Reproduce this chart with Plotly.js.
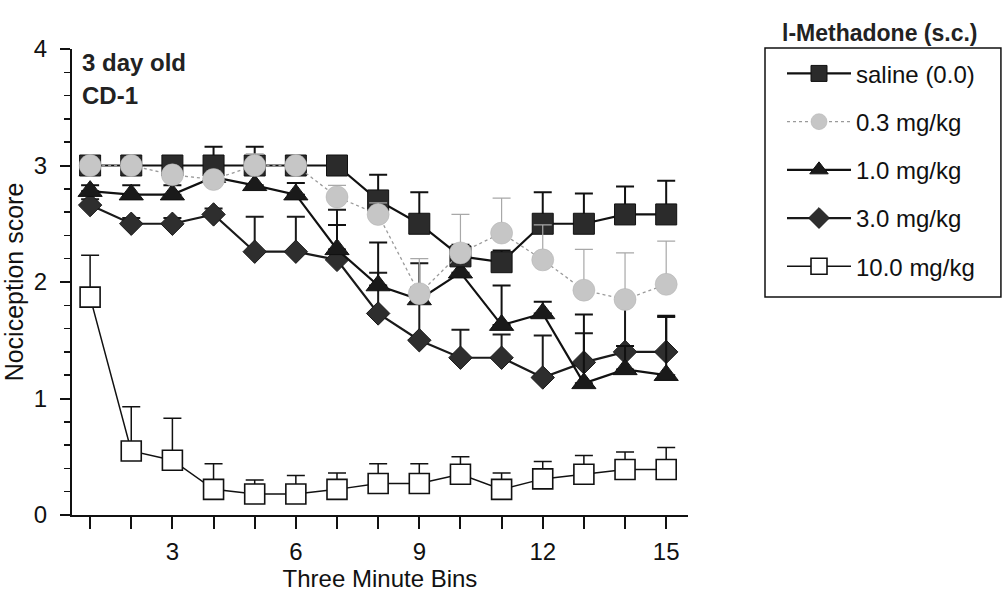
<!DOCTYPE html>
<html>
<head>
<meta charset="utf-8">
<script src="https://cdn.plot.ly/plotly-3.0.1.min.js"></script>
<style>html,body{margin:0;padding:0;background:#fff;}#chart{width:1003px;height:597px;}</style>
</head>
<body>
<div id="chart"></div>
<script>
// Three-minute bins
var bins = [1,2,3,4,5,6,7,8,9,10,11,12,13,14,15];

// Series names
var seriesNames = ["saline (0.0)", "0.3 mg/kg", "1.0 mg/kg", "3.0 mg/kg", "10.0 mg/kg"];

// Mean nociception scores
var saline  = [3.0, 3.0, 3.0, 3.0, 3.0, 3.0, 3.0, 2.7, 2.5, 2.22, 2.17, 2.5, 2.5, 2.58, 2.58];
var dose03  = [3.0, 3.0, 2.92, 2.88, 3.0, 3.0, 2.73, 2.58, 1.9, 2.25, 2.42, 2.19, 1.93, 1.85, 1.98];
var dose10  = [2.78, 2.75, 2.75, 2.9, 2.83, 2.75, 2.28, 1.97, 1.85, 2.08, 1.63, 1.73, 1.13, 1.25, 1.2];
var dose30  = [2.66, 2.5, 2.5, 2.58, 2.26, 2.26, 2.19, 1.73, 1.5, 1.35, 1.35, 1.18, 1.31, 1.4, 1.4];
var dose100 = [1.87, 0.55, 0.47, 0.22, 0.18, 0.18, 0.22, 0.27, 0.27, 0.35, 0.22, 0.31, 0.35, 0.39, 0.39];

// Upper error bars (SEM)
var salineErr  = [0.05, 0.0, 0.0, 0.16, 0.16, 0.05, 0.0, 0.22, 0.27, 0.1, 0.1, 0.27, 0.26, 0.24, 0.29];
var dose03Err  = [0.05, 0.05, 0.05, 0.05, 0.1, 0.05, 0.1, 0.1, 0.3, 0.33, 0.3, 0.3, 0.35, 0.4, 0.37];
var dose10Err  = [0.05, 0.08, 0.08, 0.1, 0.1, 0.1, 0.21, 0.37, 0.1, 0.1, 0.34, 0.1, 0.59, 0.2, 0.51];
var dose30Err  = [0.05, 0.05, 0.05, 0.05, 0.3, 0.3, 0.43, 0.35, 0.66, 0.24, 0.2, 0.36, 0.25, 0.45, 0.3];
var dose100Err = [0.36, 0.38, 0.36, 0.22, 0.12, 0.16, 0.14, 0.17, 0.17, 0.15, 0.14, 0.15, 0.16, 0.15, 0.19];

var zeros = bins.map(function(){return 0;});

function errY(arr, color, thick){
  return {type:'data', symmetric:false, array:arr, arrayminus:zeros, color:color, thickness:thick, width:9};
}

var FONT = "Liberation Sans, Arial, Helvetica, sans-serif";

var traces = [
  {x:bins, y:dose100, name:seriesNames[4], mode:'lines+markers', legendrank:5, legendgroup:'e',
   line:{color:'#111', width:1.5},
   marker:{symbol:'square', size:20, color:'#ffffff', line:{color:'#111', width:1.6}},
   error_y:errY(dose100Err, '#111', 1.5)},
  {x:bins, y:dose30, name:seriesNames[3], mode:'lines+markers', legendrank:4, legendgroup:'d',
   line:{color:'#1a1a1a', width:2.2},
   marker:{symbol:'diamond', size:18, color:'#2e2e2e', line:{color:'#1a1a1a', width:1}},
   error_y:errY(dose30Err, '#1a1a1a', 2)},
  {x:bins, y:dose10, name:seriesNames[2], mode:'lines+markers', legendrank:3, legendgroup:'c',
   line:{color:'#111', width:2.2},
   marker:{symbol:'triangle-up', size:21, color:'#1a1a1a', line:{color:'#111', width:1}},
   error_y:errY(dose10Err, '#111', 2)},
  {x:bins, y:saline, name:seriesNames[0], mode:'lines+markers', legendrank:1, legendgroup:'a',
   line:{color:'#111', width:2.2},
   marker:{symbol:'square', size:21, color:'#2b2b2b', line:{color:'#111', width:1}},
   error_y:errY(salineErr, '#111', 2)},
  {x:bins, y:dose03, name:seriesNames[1], mode:'lines+markers', legendrank:2, legendgroup:'b',
   line:{color:'#9a9a9a', width:1.3, dash:'dot'},
   marker:{symbol:'circle', size:22, color:'#c6c6c6', line:{color:'#b0b0b0', width:0.5}},
   error_y:errY(dose03Err, '#a8a8a8', 1.2)}
];

var layout = {
  width:1003, height:597,
  margin:{l:72, r:315, t:49, b:82},
  paper_bgcolor:'#fff', plot_bgcolor:'#fff',
  font:{family:FONT, color:'#111', size:24},
  showlegend:true,
  legend:{x:1.1526, y:0.995, xanchor:'left', yanchor:'top', borderwidth:0, bgcolor:'rgba(0,0,0,0)',
          font:{family:FONT, size:24, color:'#111'}, traceorder:'grouped', tracegroupgap:14, itemwidth:64},
  xaxis:{range:[0.56, 15.53], tick0:0, dtick:3, ticks:'outside', ticklen:12, tickwidth:2, tickcolor:'#111',
         showline:true, linecolor:'#111', linewidth:2, showgrid:false, zeroline:false,
         tickfont:{family:FONT, size:24, color:'#111'}, ticklabelstandoff:2,
         minor:{dtick:1, tick0:0, ticks:'outside', ticklen:12, tickwidth:2, tickcolor:'#111', showgrid:false},
         title:{text:'Three Minute Bins', font:{family:FONT, size:24, color:'#111'}, standoff:2}},
  yaxis:{range:[0, 4], tick0:0, dtick:1, ticks:'outside', ticklen:10, tickwidth:2, tickcolor:'#111',
         showline:true, linecolor:'#111', linewidth:2, showgrid:false, zeroline:false,
         tickfont:{family:FONT, size:24, color:'#111'}, ticklabelstandoff:8,
         minor:{dtick:0.2, tick0:0, ticks:'outside', ticklen:6, tickwidth:1.5, tickcolor:'#111', showgrid:false},
         title:{text:'Nociception score', font:{family:FONT, size:25, color:'#111'}, standoff:4}},
  shapes:[
    {type:'rect', xref:'paper', yref:'paper', x0:1.125, x1:1.508, y0:0.468, y1:1.002,
     line:{color:'#111', width:1.5}, fillcolor:'rgba(0,0,0,0)'}
  ],
  annotations:[
    {text:'<b>3 day old</b>', xref:'paper', yref:'paper', x:0.013, y:0.972, xanchor:'left', yanchor:'middle',
     showarrow:false, font:{family:FONT, size:24, color:'#222'}},
    {text:'<b>CD-1</b>', xref:'paper', yref:'paper', x:0.013, y:0.901, xanchor:'left', yanchor:'middle',
     showarrow:false, font:{family:FONT, size:24, color:'#222'}},
    {text:'<b>l-Methadone (s.c.)</b>', xref:'paper', yref:'paper', x:1.312, y:1.034, xanchor:'center', yanchor:'middle',
     showarrow:false, font:{family:FONT, size:23, color:'#222'}}
  ]
};

Plotly.newPlot('chart', traces, layout, {displayModeBar:false, staticPlot:true});
</script>
</body>
</html>
